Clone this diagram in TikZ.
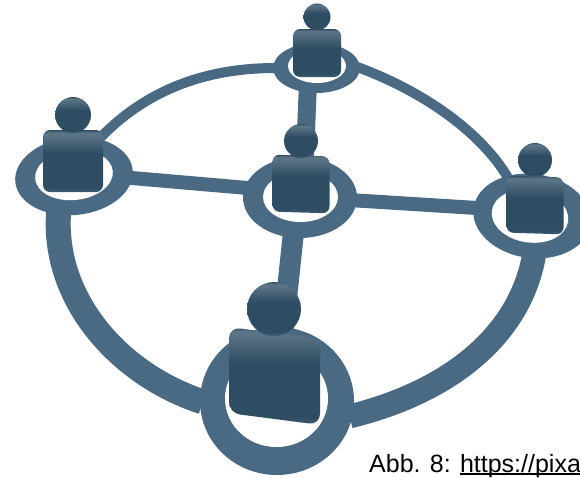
\documentclass[tikz,border=0pt]{standalone}
\usepackage{fontspec}
\setmainfont{Liberation Sans}
\usepackage{tikz}
\usetikzlibrary{calc, shapes.geometric}
\definecolor{netblue}{HTML}{4A6A84}
\definecolor{persondark}{HTML}{2E4C62}
\definecolor{personlight}{HTML}{5A7385}
\pgfdeclareverticalshading{glossy}{100bp}{
    color(0bp)=(persondark!60!netblue); color(26bp)=(persondark!60!netblue); color(29bp)=(persondark); color(56bp)=(persondark);
    color(71bp)=(personlight); color(73bp)=(personlight); color(75bp)=(persondark); color(100bp)=(persondark)}
\tikzstyle{ring} = [ellipse, fill=netblue, inner sep=0pt, outer sep=0pt]
\tikzstyle{hole} = [ellipse, fill=white, inner sep=0pt, outer sep=0pt]
\tikzstyle{body} = [rectangle, rounded corners=7pt, shading=glossy, inner sep=0pt, transform shape]
\tikzstyle{head} = [circle, shading=glossy, inner sep=0pt]
\tikzstyle{link} = [netblue, line cap=butt, shorten <=-3pt, shorten >=-3pt]

\begin{document}
\begin{tikzpicture}[x=1pt, y=-1pt]
        \useasboundingbox (0, 0) rectangle (580, 477);

        \node[ring, minimum width=87pt, minimum height=50pt, name=ring_top] at (316.5, 68) {};
        \node[ring, minimum width=118pt, minimum height=78pt, rotate=6, name=ring_left] at (74, 176) {};
        \node[ring, minimum width=114pt, minimum height=81pt, name=ring_mid] at (300, 197.5) {};
        \node[ring, minimum width=118pt, minimum height=84pt, rotate=-8, name=ring_right] at (532, 216) {};
        \node[ring, minimum width=154pt, minimum height=148pt, name=ring_front] at (277, 401) {};

        \node[hole, minimum width=58pt, minimum height=34pt, name=hole_top] at (317, 66) {};
        \node[hole, minimum width=78pt, minimum height=50pt, rotate=6, name=hole_left] at (74, 175) {};
        \node[hole, minimum width=75pt, minimum height=50pt, name=hole_mid] at (300.5, 197) {};
        \node[hole, minimum width=77pt, minimum height=53pt, rotate=-8, name=hole_right] at (530, 216) {};
        \node[hole, minimum width=103pt, minimum height=97pt, name=hole_front] at (276.5, 398.5) {};

        \draw[link, line width=10pt] (ring_left.50) .. controls (145, 90) and (205, 68) .. (ring_top.west);
        \draw[link, line width=10pt] (ring_top.east) .. controls (420, 90) and (480, 130) .. (ring_right.130);
        \draw[link, line width=25pt] (ring_left.-118) .. controls (52, 300) and (120, 375) .. (ring_front.west);
        \draw[link, line width=24pt] (ring_front.-11) .. controls (450, 392) and (520, 335) .. (ring_right.-80);
        \draw[link, line width=14pt] (ring_left.-8) -- (ring_mid.170);
        \draw[link, line width=14pt] (ring_mid.-3) -- (ring_right.west);
        \draw[link, line width=18pt] (ring_mid.83) -- (ring_top.-110);
        \draw[link, line width=21pt] (ring_mid.-100) -- (ring_front.85);

        \node[body, minimum width=48pt, minimum height=48pt, name=body_top] at (317, 53) {};
        \node[head, minimum size=27pt, name=head_top] at (317, 17) {};
        \node[body, minimum width=60pt, minimum height=62pt, name=body_left] at (73, 161) {};
        \node[head, minimum size=36pt, name=head_left] at (73, 115) {};
        \node[body, yslant=-0.03, minimum width=57pt, minimum height=57pt, name=body_mid] at (301, 184) {};
        \node[head, minimum size=34pt, name=head_mid] at (301, 141) {};
        \node[body, yslant=-0.03, minimum width=57pt, minimum height=57pt, name=body_right] at (535, 205) {};
        \node[head, minimum size=34pt, name=head_right] at (535, 160) {};
        \node[body, yslant=-0.13, rounded corners=11pt, minimum width=91pt, minimum height=86pt, name=body_front] at (274.5, 376) {};
        \node[head, minimum size=54pt, name=head_front] at (274, 309) {};

        \node[anchor=base west, inner sep=0pt, name=caption] at (369, 472) {\fontsize{25}{28}\selectfont Abb. 8: \rlap{\rule[-2.8pt]{125pt}{1.6pt}}https://pixa};
    \end{tikzpicture}
\end{document}
